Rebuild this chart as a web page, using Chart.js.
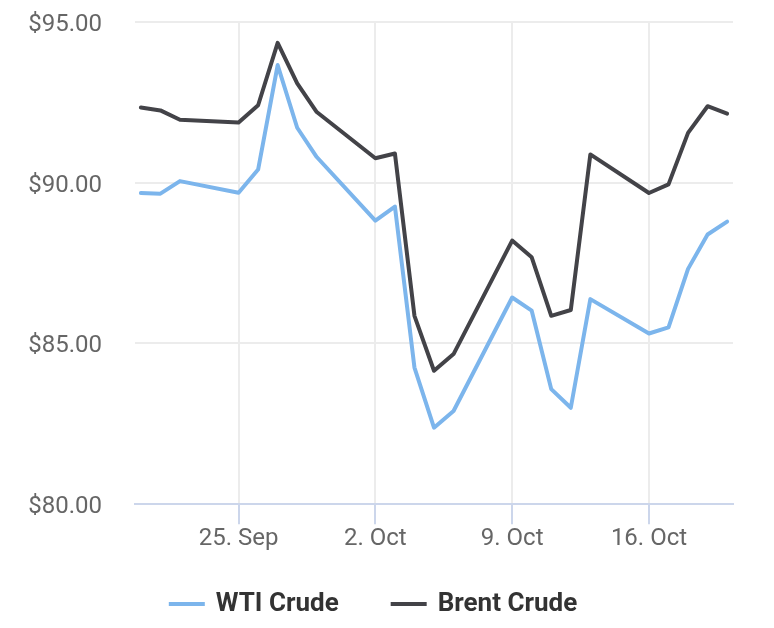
<!DOCTYPE html>
<html>
<head>
<meta charset="utf-8">
<script src="https://cdn.jsdelivr.net/npm/chart.js@4"></script>
<style>
  html, body { margin: 0; padding: 0; background: #fff; }
  #wrap { width: 774px; height: 628px; }
</style>
</head>
<body>
<div id="wrap"><canvas id="graf"></canvas></div>
<script>
// trading days
const dates = ['2023-09-20', '2023-09-21', '2023-09-22', '2023-09-25', '2023-09-26', '2023-09-27',
  '2023-09-28', '2023-09-29', '2023-10-02', '2023-10-03', '2023-10-04', '2023-10-05', '2023-10-06',
  '2023-10-09', '2023-10-10', '2023-10-11', '2023-10-12', '2023-10-13', '2023-10-16', '2023-10-17',
  '2023-10-18', '2023-10-19', '2023-10-20']

const wti = [89.68, 89.66, 90.05, 89.69, 90.41, 93.66, 91.71, 90.80, 88.82, 89.26, 84.25, 82.38, 82.90,
  86.43, 86.02, 83.58, 83.00, 86.38, 85.31, 85.50, 87.32, 88.39, 88.79]

const brent = [92.34, 92.25, 91.96, 91.87, 92.41, 94.35, 93.09, 92.20, 90.76, 90.91, 85.86, 84.15, 84.67,
  88.20, 87.68, 85.86, 86.04, 90.88, 89.68, 89.95, 91.55, 92.38, 92.15]

const tickDates = ['2023-09-25', '2023-10-02', '2023-10-09', '2023-10-16']
const tickLabels = ['25. Sep', '2. Oct', '9. Oct', '16. Oct']

// dia -> número (dias desde 1970)
const dia = s => Date.parse(s + 'T00:00:00Z') / 864e5
const xs = dates.map(dia)

let ctx = document.getElementById('graf').getContext('2d')

Chart.defaults.font.family = 'Roboto'
Chart.defaults.color = '#666666'

// legenda desenhada à mão (linha + texto em negrito)
const legenda = {
  id: 'legenda',
  afterDraw(chart) {
    const c = chart.ctx
    const sets = chart.data.datasets
    const boxW = 36, gap = 11, espaco = 52, cx = 373, cy = 604
    c.save()
    c.font = 'bold 26px Roboto'
    c.textBaseline = 'middle'
    const larg = sets.map(d => boxW + gap + c.measureText(d.label).width)
    let x = cx - (larg.reduce((a, b) => a + b, 0) + espaco * (sets.length - 1)) / 2
    sets.forEach((d, i) => {
      c.fillStyle = d.borderColor
      c.fillRect(x, cy - 2, boxW, 4)
      c.fillStyle = '#333333'
      c.fillText(d.label, x + boxW + gap, cy)
      x += larg[i] + espaco
    })
    c.restore()
  }
}

const data = {
  datasets: [{
    label: 'WTI Crude',
    data: xs.map((x, i) => ({ x: x, y: wti[i] })),
    borderColor: '#7cb5ec',
    borderWidth: 4,
    pointRadius: 0,
    borderJoinStyle: 'round',
    borderCapStyle: 'round',
    tension: 0
  }, {
    label: 'Brent Crude',
    data: xs.map((x, i) => ({ x: x, y: brent[i] })),
    borderColor: '#434348',
    borderWidth: 4,
    pointRadius: 0,
    borderJoinStyle: 'round',
    borderCapStyle: 'round',
    tension: 0
  }]
}

const config = {
  type: 'line',
  data: data,
  options: {
    responsive: true,
    maintainAspectRatio: false,
    animation: false,
    layout: { padding: { top: 22, left: 14, right: 41, bottom: 75 } },
    plugins: {
      tooltip: { enabled: false },
      legend: { display: false }
    },
    scales: {
      x: {
        type: 'linear',
        min: xs[0] - 0.3,
        max: xs[xs.length - 1] + 0.3,
        afterBuildTicks: scale => { scale.ticks = tickDates.map(d => ({ value: dia(d) })) },
        grid: {
          color: '#ececec',
          lineWidth: 2,
          tickColor: '#ccd6eb',
          tickLength: 20,
          tickWidth: 2
        },
        border: { color: '#ccd6eb', width: 2 },
        ticks: {
          padding: 0,
          maxRotation: 0,
          font: { size: 24 },
          callback: (v, i) => tickLabels[i]
        }
      },
      y: {
        min: 80,
        max: 95,
        afterFit: scale => { scale.width = 121 },
        grid: { color: '#ececec', lineWidth: 2, tickLength: 30, tickColor: 'rgba(0,0,0,0)' },
        border: { display: false },
        ticks: {
          stepSize: 5,
          padding: 3,
          labelOffset: 3,
          font: { size: 24 },
          callback: v => '$' + v.toFixed(2)
        }
      }
    }
  },
  plugins: [legenda]
}

const grafic = new Chart(ctx, config)
</script>
</body>
</html>
